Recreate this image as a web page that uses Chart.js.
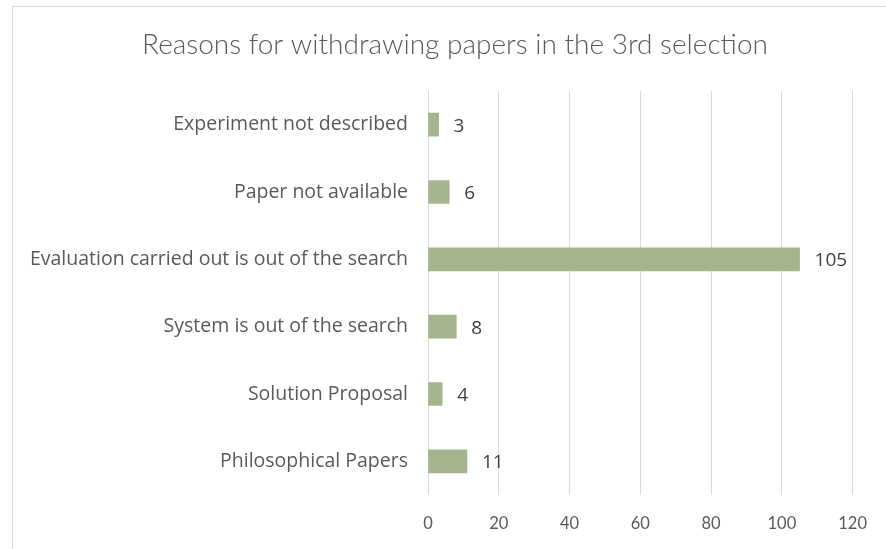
<!DOCTYPE html>
<html>
<head>
<meta charset="utf-8">
<script src="https://cdn.jsdelivr.net/npm/chart.js@4/dist/chart.umd.min.js"></script>
<style>
  html, body { margin: 0; padding: 0; background: #ffffff; overflow: hidden; }
  #frame { position: absolute; left: 12px; top: 6px; width: 900px; height: 570px; border: 1px solid #d9d9d9; }
  #wrap { position: absolute; left: 0; top: 0; width: 886px; height: 549px; }
</style>
</head>
<body>
<div id="frame"></div>
<div id="wrap"><canvas id="c" width="886" height="549"></canvas></div>
<script>
const categories = [
  "Experiment not described",
  "Paper not available",
  "Evaluation carried out is out of the search",
  "System is out of the search",
  "Solution Proposal",
  "Philosophical Papers"
];
const counts = [3, 6, 105, 8, 4, 11];
const xTicks = [0, 20, 40, 60, 80, 100, 120];
const titleText = 'Reasons for withdrawing papers in the 3rd selection';

const FONT = "Lato, 'Open Sans', sans-serif";
const LABEL_FONT = "'Open Sans', Lato, sans-serif";

// chart title, centred in the bordered frame
const frameTitle = {
  id: 'frameTitle',
  afterDraw(chart) {
    const ctx = chart.ctx;
    ctx.save();
    ctx.font = "300 28px " + FONT;
    ctx.fillStyle = "#595959";
    ctx.textAlign = "center";
    ctx.textBaseline = "middle";
    ctx.fillText(titleText, 455, 45);
    ctx.restore();
  }
};

// value labels to the right of each bar
const valueLabels = {
  id: 'valueLabels',
  afterDatasetsDraw(chart) {
    const ctx = chart.ctx;
    const meta = chart.getDatasetMeta(0);
    ctx.save();
    ctx.font = "19px " + LABEL_FONT;
    ctx.fillStyle = "#404040";
    ctx.textAlign = "left";
    ctx.textBaseline = "middle";
    meta.data.forEach((bar, i) => {
      ctx.fillText(String(counts[i]), bar.x + 15, bar.y + 1.5);
    });
    ctx.restore();
  }
};

new Chart(document.getElementById('c'), {
  type: 'bar',
  data: {
    labels: categories,
    datasets: [{
      data: counts,
      backgroundColor: '#a3b48e',
      borderWidth: 0,
      barThickness: 23
    }]
  },
  options: {
    indexAxis: 'y',
    responsive: false,
    animation: false,
    layout: { padding: { left: 0, right: 33, top: 91, bottom: 0 } },
    plugins: {
      legend: { display: false },
      tooltip: { enabled: false },
      title: { display: false }
    },
    scales: {
      x: {
        min: 0,
        max: 120,
        afterBuildTicks(scale) { scale.ticks = xTicks.map(v => ({ value: v })); },
        afterFit(scale) { scale.height = 54; },
        grid: { color: '#d9d9d9', lineWidth: 1, drawTicks: false },
        border: { display: false },
        ticks: { color: '#595959', font: { family: FONT, size: 16.5 }, padding: 19, maxRotation: 0 }
      },
      y: {
        afterFit(scale) { scale.width = 428; },
        grid: { display: false, drawTicks: false },
        border: { display: false },
        ticks: { color: '#595959', font: { family: LABEL_FONT, size: 19.5 }, padding: 20 }
      }
    }
  },
  plugins: [valueLabels, frameTitle]
});
</script>
</body>
</html>
